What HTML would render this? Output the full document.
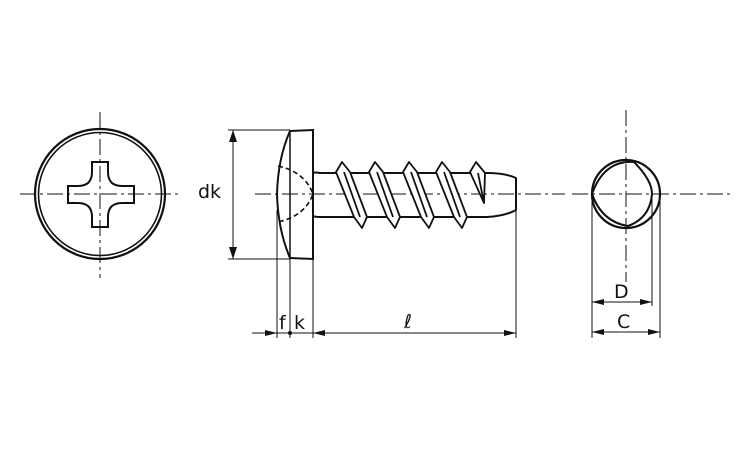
<!DOCTYPE html>
<html><head><style>body{margin:0;background:#fff}svg{display:block}text{font-family:"DejaVu Sans","Liberation Sans",sans-serif;font-size:19px;fill:#111}</style></head><body>
<svg width="750" height="450" viewBox="0 0 750 450" xmlns="http://www.w3.org/2000/svg">
<g fill="none" stroke="#111">
<!-- centerlines -->
<g stroke-width="1" stroke-dasharray="16,4,3,4">
<line x1="20" y1="194" x2="182" y2="194"/>
<line x1="100" y1="112" x2="100" y2="278"/>
<line x1="255" y1="194" x2="565" y2="194"/>
<line x1="572" y1="194" x2="732" y2="194"/>
<line x1="626" y1="110" x2="626" y2="282"/>
</g>
<!-- left view -->
<circle cx="100" cy="194" r="65" stroke-width="2.2"/>
<circle cx="100" cy="194" r="61.5" stroke-width="1.6"/>
<path d="M92 162 H108 V172 Q108 186 122 186 H134 V203 H122 Q108 203 108 217 V227 H92 V217 Q92 203 78 203 H68 V186 H78 Q92 186 92 172 Z" stroke-width="2"/>
<!-- head -->
<path d="M290 131 L313 130 L313 259 L290 258 Q278 230 277 194 Q278 158 290 131 Z" stroke-width="2"/>
<line x1="290" y1="131" x2="290" y2="258" stroke-width="1.5"/>
<path d="M278 166 Q305 172 313 194 Q305 216 278 222" stroke-width="1.6" stroke-dasharray="5,3"/>
<!-- shank -->
<path d="M313 173 Q315 172 320 173 H487 Q505 173 516 178 V210 Q505 216 487 217 H320 Q315 217 313 216" stroke-width="2"/>
<g stroke-width="1.8" stroke-linejoin="round">
<path d="M336 172 L342 162 L350 172 L367 217 L362 228 L354 217 Z" fill="#fff"/>
<line x1="344" y1="172" x2="360" y2="217"/>
<path d="M369 172 L375 162 L383 172 L400 217 L395 228 L387 217 Z" fill="#fff"/>
<line x1="377" y1="172" x2="393" y2="217"/>
<path d="M403 172 L409 162 L417 172 L434 217 L429 228 L421 217 Z" fill="#fff"/>
<line x1="411" y1="172" x2="427" y2="217"/>
<path d="M436 172 L442 162 L450 172 L467 217 L462 228 L454 217 Z" fill="#fff"/>
<line x1="444" y1="172" x2="460" y2="217"/>
<path d="M470 172 L476 162 L485 173 L484 203 Z" fill="#fff"/>
<line x1="478" y1="173" x2="484" y2="203"/>
</g>
<!-- dimensions -->
<g stroke-width="1">
<line x1="228" y1="130" x2="290" y2="130"/>
<line x1="228" y1="259" x2="290" y2="259"/>
<line x1="233" y1="130" x2="233" y2="259"/>
<line x1="277" y1="210" x2="277" y2="338"/>
<line x1="290" y1="259" x2="290" y2="338"/>
<line x1="313" y1="259" x2="313" y2="338"/>
<line x1="516" y1="210" x2="516" y2="338"/>
<line x1="252" y1="333" x2="516" y2="333"/>
<line x1="592" y1="196" x2="592" y2="338"/>
<line x1="652" y1="196" x2="652" y2="306"/>
<line x1="660" y1="196" x2="660" y2="338"/>
<line x1="592" y1="302" x2="652" y2="302"/>
<line x1="592" y1="332" x2="660" y2="332"/>
</g>
<!-- right view -->
<circle cx="626" cy="194" r="34" stroke-width="2.2"/>
<path d="M592 194 Q604 160 634 162 Q652 180 652 194 Q650 218 628 226 Q602 222 592 194 Z" stroke-width="2"/>
</g>
<g fill="#111">
<path d="M233 130 l-4 12 h8z"/><path d="M233 259 l-4 -12 h8z"/>
<path d="M277 333 l-12 -3 v6z"/><path d="M313 333 l12 -3 v6z"/><path d="M516 333 l-12 -3 v6z"/>
<circle cx="290" cy="333" r="2"/>
<path d="M592 302 l12 -3 v6z"/><path d="M652 302 l-12 -3 v6z"/>
<path d="M592 332 l12 -3 v6z"/><path d="M660 332 l-12 -3 v6z"/>
</g>
<text x="198" y="198">dk</text>
<text x="279" y="329">f</text>
<text x="294" y="329">k</text>
<text x="404" y="328" font-style="italic">ℓ</text>
<text x="614" y="298">D</text>
<text x="617" y="328">C</text>
</svg>
</body></html>
